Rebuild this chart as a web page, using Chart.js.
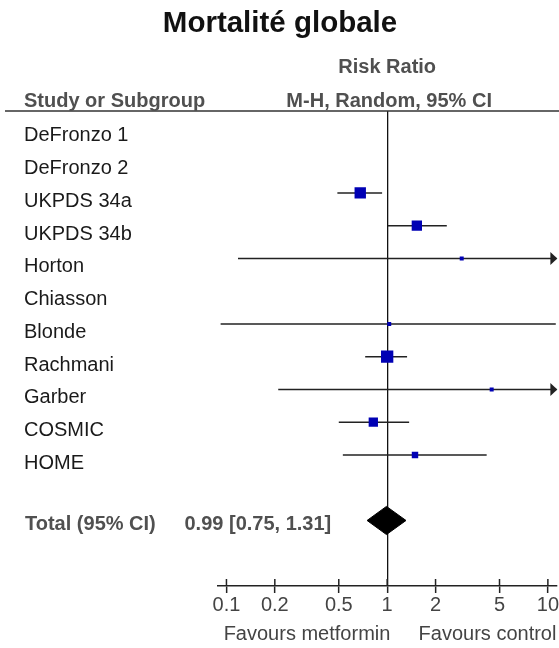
<!DOCTYPE html>
<html>
<head>
<meta charset="utf-8">
<title>Mortalité globale</title>
<script src="https://cdn.jsdelivr.net/npm/chart.js@4/dist/chart.umd.min.js"></script>
<style>
  html, body { margin: 0; padding: 0; background: #fff; }
  canvas { display: block; }
</style>
</head>
<body>
<canvas id="forest" width="559" height="648"></canvas>
<script>
// ---- data ----
const studies    = ["DeFronzo 1", "DeFronzo 2", "UKPDS 34a", "UKPDS 34b", "Horton", "Chiasson", "Blonde", "Rachmani", "Garber", "COSMIC", "HOME"];
const riskRatio  = [null, null, 0.68, 1.53, 2.91,  null, 1.03,  1.00, 4.47, 0.82, 1.49];
const ciLower    = [null, null, 0.49, 1.01, 0.118, null, 0.092, 0.73, 0.21, 0.50, 0.53];
const ciUpper    = [null, null, 0.93, 2.35, 71.8,  null, 11.2,  1.33, 95.0, 1.37, 4.16];
const weightPct  = [null, null, 24.5, 20.1, 0.9,   null, 0.6,   28.6, 1.1,  16.4, 7.8];
const totalLabel = "Total (95% CI)";
const totalRR    = [0.99, 0.75, 1.31];   // estimate, lower, upper
const xTicks     = [0.1, 0.2, 0.5, 1, 2, 5, 10];
const favours    = ["Favours metformin", "Favours control"];
const headers    = { title: "Mortalité globale", top: "Risk Ratio", left: "Study or Subgroup", right: "M-H, Random, 95% CI" };

const FONT = '"Liberation Sans", Arial, sans-serif';
const xMin = 0.0886, xMax = 11.29;
const totalRow = studies.length + 1;
const diamondHalf = 0.43;

function byId(id){ return document.getElementById(id); }

const rows = studies.map((s, i) => i);
const whiskers = rows.filter(i => riskRatio[i] != null).map(i => ({
  type: "line", order: 2,
  data: [{x: ciLower[i], y: i}, {x: ciUpper[i], y: i}],
  borderColor: "#222", borderWidth: 1.5, pointRadius: 0
}));
const boxes = rows.filter(i => riskRatio[i] != null);
const boxRadius = boxes.map(i => Math.max(4, 2.3 * Math.sqrt(weightPct[i])) / Math.SQRT2);
const squares = {
  type: "scatter", order: 0,
  data: boxes.map(i => ({x: riskRatio[i], y: i})),
  pointStyle: "rect", pointRadius: boxRadius, pointHoverRadius: boxRadius,
  backgroundColor: "#0000b4", borderWidth: 0
};
const diamond = {
  type: "line", order: 0,
  data: [
    {x: totalRR[1], y: totalRow}, {x: totalRR[0], y: totalRow - diamondHalf},
    {x: totalRR[2], y: totalRow}, {x: totalRR[0], y: totalRow + diamondHalf},
    {x: totalRR[1], y: totalRow}
  ],
  fill: "shape", backgroundColor: "#000", borderColor: "#000", borderWidth: 1, pointRadius: 0, tension: 0
};

const forestDecor = {
  id: "forestDecor",
  afterDraw(chart){
    const {ctx, chartArea: a, scales: {x, y}} = chart;
    const p1 = x.getPixelForValue(1);
    ctx.save();
    ctx.textBaseline = "middle";
    ctx.font = "bold 29.5px " + FONT; ctx.fillStyle = "#111"; ctx.textAlign = "center";
    ctx.fillText(headers.title, 280, 24);

    ctx.strokeStyle = "#333"; ctx.lineWidth = 1.5;
    ctx.beginPath(); ctx.moveTo(5, a.top); ctx.lineTo(chart.width, a.top); ctx.stroke();

    ctx.font = "bold 20px " + FONT; ctx.fillStyle = "#505050";
    ctx.fillText(headers.top, p1, 67);
    ctx.fillText(headers.right, p1 + 2, 101);
    ctx.textAlign = "left";
    ctx.fillText(headers.left, 24, 101);

    const ty = y.getPixelForValue(totalRow) + 4;
    ctx.fillText(totalLabel, 25, ty);
    ctx.fillText(`${totalRR[0].toFixed(2)} [${totalRR[1].toFixed(2)}, ${totalRR[2].toFixed(2)}]`, 184.5, ty);

    // upper half of the axis ticks
    ctx.strokeStyle = "#222"; ctx.lineWidth = 1.5;
    xTicks.forEach(v => {
      const p = x.getPixelForValue(v);
      ctx.beginPath(); ctx.moveTo(p, a.bottom - 7); ctx.lineTo(p, a.bottom); ctx.stroke();
    });

    // arrow heads for intervals running off the scale
    ctx.fillStyle = "#222";
    rows.forEach(i => {
      if (ciUpper[i] == null || ciUpper[i] <= xMax) return;
      const py = y.getPixelForValue(i), tip = a.right + 1;
      ctx.beginPath(); ctx.moveTo(tip, py); ctx.lineTo(tip - 7, py - 6.5); ctx.lineTo(tip - 7, py + 6.5); ctx.closePath(); ctx.fill();
    });

    ctx.font = "20px " + FONT; ctx.fillStyle = "#444"; ctx.textAlign = "center";
    ctx.fillText(favours[0], 307, 634);
    ctx.fillText(favours[1], 487.5, 634);
    ctx.restore();
  }
};

new Chart(byId("forest"), {
  type: "scatter",
  data: { datasets: [squares, diamond, ...whiskers] },
  plugins: [forestDecor],
  options: {
    responsive: false, animation: false, devicePixelRatio: 1,
    layout: { autoPadding: false, padding: { left: 24, right: 0, top: 111, bottom: 0 } },
    plugins: { legend: { display: false }, tooltip: { enabled: false }, title: { display: false } },
    scales: {
      x: {
        type: "logarithmic", min: xMin, max: xMax, bounds: "data",
        afterBuildTicks: s => { s.ticks = xTicks.map(v => ({value: v})); },
        afterFit: s => { s.height = 62; },
        ticks: { callback: v => String(v), autoSkip: false, maxRotation: 0, padding: 0,
                 color: "#444", font: { family: FONT, size: 20 } },
        grid: { drawOnChartArea: true, drawTicks: true, tickLength: 7, tickWidth: 1.5, tickColor: "#222",
                lineWidth: 1.3, color: c => (c.tick && c.tick.value === 1) ? "#111" : "rgba(0,0,0,0)" },
        border: { display: true, color: "#222", width: 1.5 }
      },
      y: {
        type: "linear", reverse: true, min: -0.5, max: 14,
        afterBuildTicks: s => { s.ticks = rows.map(v => ({value: v})); },
        afterFit: s => { s.width = 194; },
        ticks: { callback: (v, i) => studies[i], autoSkip: false, crossAlign: "far", labelOffset: 8.5,
                 color: "#1a1a1a", font: { family: FONT, size: 20 } },
        grid: { display: false },
        border: { display: false }
      }
    }
  }
});
</script>
</body>
</html>
